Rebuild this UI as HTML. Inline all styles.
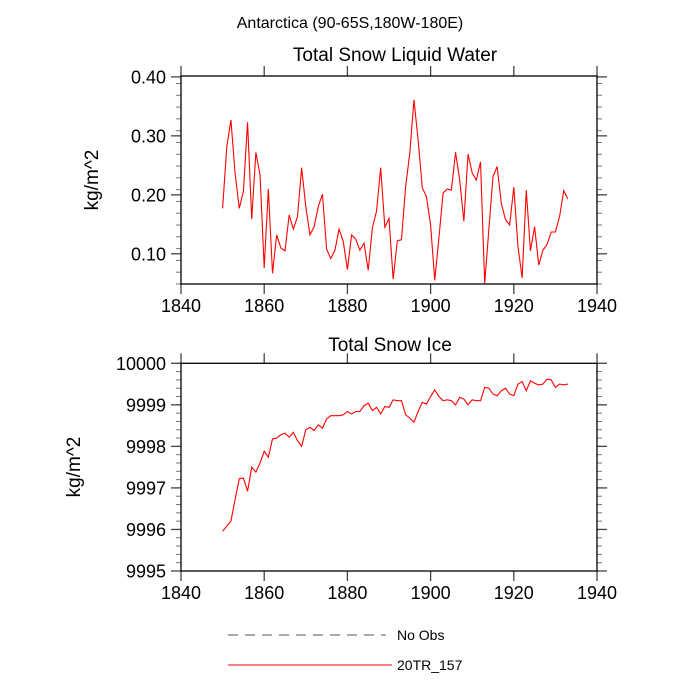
<!DOCTYPE html>
<html><head><meta charset="utf-8"><style>
body{margin:0;background:#fff}
svg{display:block;font-family:"Liberation Sans",sans-serif}
</style></head><body>
<svg id="c" width="700" height="700" xmlns="http://www.w3.org/2000/svg">
<text x="350" y="28" font-size="16" text-anchor="middle">Antarctica (90-65S,180W-180E)</text>
<text x="395" y="61" font-size="19" text-anchor="middle">Total Snow Liquid Water</text>
<text x="390" y="351" font-size="19" text-anchor="middle">Total Snow Ice</text>
<text transform="translate(98,180) rotate(-90)" font-size="19" text-anchor="middle">kg/m^2</text>
<text transform="translate(80,467) rotate(-90)" font-size="19" text-anchor="middle">kg/m^2</text>
<g id="top"></g>
<g id="bot"></g>
<line x1="228" y1="635" x2="386" y2="635" stroke="#555" stroke-width="1" stroke-dasharray="10,7"/>
<text x="397" y="640" font-size="14">No Obs</text>
<line x1="228" y1="665" x2="392" y2="665" stroke="#f00" stroke-width="1"/>
<text x="397" y="670" font-size="14">20TR_157</text>
</svg>
<script>
const years=[];for(let y=1850;y<=1933;y++)years.push(y);
const liquid=[0.177,0.281,0.327,0.237,0.177,0.206,0.323,0.159,0.272,0.234,0.076,0.210,0.067,0.132,0.110,0.105,0.166,0.142,0.163,0.246,0.180,0.132,0.146,0.180,0.201,0.108,0.092,0.106,0.142,0.121,0.073,0.132,0.125,0.106,0.118,0.072,0.144,0.172,0.246,0.145,0.160,0.057,0.122,0.124,0.214,0.271,0.361,0.293,0.212,0.197,0.149,0.055,0.127,0.203,0.210,0.208,0.272,0.225,0.155,0.269,0.237,0.225,0.256,0.050,0.141,0.231,0.248,0.185,0.158,0.149,0.213,0.113,0.059,0.208,0.105,0.146,0.081,0.106,0.116,0.137,0.137,0.163,0.207,0.193];
const ice=[9995.96,9996.08,9996.20,9996.72,9997.22,9997.24,9996.92,9997.50,9997.38,9997.60,9997.88,9997.74,9998.18,9998.20,9998.28,9998.32,9998.22,9998.34,9998.14,9998.00,9998.40,9998.46,9998.38,9998.52,9998.44,9998.66,9998.74,9998.74,9998.74,9998.76,9998.84,9998.78,9998.84,9998.84,9998.98,9999.04,9998.86,9998.94,9998.78,9998.96,9998.94,9999.12,9999.10,9999.10,9998.76,9998.68,9998.58,9998.84,9999.06,9999.02,9999.20,9999.36,9999.20,9999.10,9999.12,9999.10,9999.00,9999.18,9999.14,9999.00,9999.12,9999.10,9999.10,9999.42,9999.40,9999.26,9999.22,9999.34,9999.40,9999.26,9999.22,9999.50,9999.56,9999.34,9999.58,9999.52,9999.48,9999.50,9999.62,9999.60,9999.42,9999.50,9999.48,9999.50];
const xTicks=[1840,1860,1880,1900,1920,1940];
const topYTicks=[0.10,0.20,0.30,0.40];
const topYLabels=["0.10","0.20","0.30","0.40"];
const botYTicks=[9995,9996,9997,9998,9999,10000];
const botYLabels=["9995","9996","9997","9998","9999","10000"];
const NS="http://www.w3.org/2000/svg";
function el(p,t,a){const e=document.createElementNS(NS,t);for(const k in a)e.setAttribute(k,a[k]);p.appendChild(e);return e;}
function panel(g,o){
  const L=181,R=597,T=o.T,B=o.B;
  const xs=v=>L+(v-1840)/100*(R-L);
  const ys=v=>B-(v-o.ymin)/(o.ymax-o.ymin)*(B-T);
  // minor ticks
  for(let v=o.ymin;v<=o.ymax+1e-9;v+=o.minor){
    const y=ys(v);
    let t=el(g,'line',{x1:L-5,y1:y,x2:L,y2:y,stroke:'#777','stroke-width':1});
    
    
    t=el(g,'line',{x1:R,y1:y,x2:R+5,y2:y,stroke:'#777','stroke-width':1});
    
    
  }
  o.yt.forEach((v,i)=>{
    const y=ys(v);
    let t=el(g,'line',{x1:L-10,y1:y,x2:L,y2:y,stroke:'#444','stroke-width':1.3});
    
    
    t=el(g,'line',{x1:R,y1:y,x2:R+10,y2:y,stroke:'#444','stroke-width':1.3});
    
    
    const tx=el(g,'text',{x:L-15,y:y+6.5,'font-size':18,'text-anchor':'end'});
    tx.textContent=o.yl[i];
    
    
  });
  xTicks.forEach(v=>{
    const x=xs(v);
    let t=el(g,'line',{x1:x,y1:B,x2:x,y2:B+10,stroke:'#444','stroke-width':1.3});
    
    
    t=el(g,'line',{x1:x,y1:T-10,x2:x,y2:T,stroke:'#444','stroke-width':1.3});
    
    
    const tx=el(g,'text',{x:x,y:B+28,'font-size':18,'text-anchor':'middle'});
    tx.textContent=String(v);
    
    
  });
  const fr=el(g,'rect',{x:L,y:T,width:R-L,height:B-T,fill:'none',stroke:'#000','stroke-width':1.3});
  
  
  const pts=years.map((yr,i)=>xs(yr).toFixed(2)+','+ys(o.data[i]).toFixed(2)).join(' ');
  const pl=el(g,'polyline',{points:pts,fill:'none',stroke:'#f00','stroke-width':1.1});
  
  
}
panel(document.getElementById('top'),{T:76,B:284,ymin:0.0488,ymax:0.4015,minor:0.02,yt:topYTicks,yl:topYLabels,data:liquid,name:'liquid-water-line'});
panel(document.getElementById('bot'),{T:363.3,B:571,ymin:9995,ymax:10000,minor:0.2,yt:botYTicks,yl:botYLabels,data:ice,name:'snow-ice-line'});
</script>
</body></html>
